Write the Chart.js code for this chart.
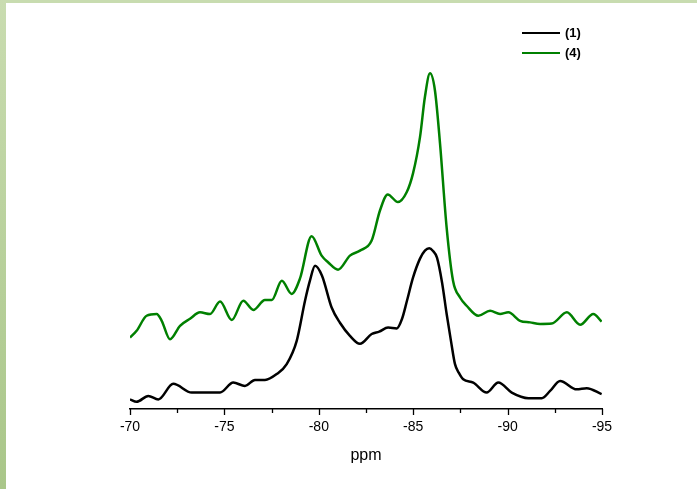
<!DOCTYPE html>
<html>
<head>
<meta charset="utf-8">
<script src="https://cdn.jsdelivr.net/npm/chart.js@4"></script>
<style>
  body { margin: 0; background: #fff; }
  #wrap { position: relative; width: 698px; height: 489px; }
  #chart { position: absolute; left: 0; top: 0; }
  .edge-left { position: absolute; left: 0; top: 0; width: 6px; height: 489px;
    background: linear-gradient(#c9dcb0, #a9c689); }
  .edge-top { position: absolute; left: 0; top: 0; width: 697px; height: 3px; background: #c8dcb0; }
</style>
</head>
<body>
<div id="wrap">
  <canvas id="chart" width="698" height="489"></canvas>
  <div class="edge-top"></div>
  <div class="edge-left"></div>
</div>
<script>
// sample (1) - ppm / intensity (arb. units)
const ppm1 = [-70.00, -70.35, -70.97, -71.50, -72.29, -73.27, -74.77, -75.47, -76.09, -76.62,
  -77.15, -77.77, -78.30, -78.83, -79.27, -79.53, -79.80, -80.17, -80.68, -81.12,
  -81.65, -82.18, -82.80, -83.20, -83.67, -84.13, -84.41, -84.67, -84.99, -85.36, -85.62,
  -85.85, -86.05, -86.26, -86.53, -86.77, -87.00, -87.21, -87.42, -87.65, -88.18,
  -88.89, -89.51, -90.22, -91.10, -91.81, -92.25, -92.78, -93.66, -94.19, -94.98];
const sample1 = [2.4, 1.8, 3.25, 2.4, 6.3, 4.1, 4.1, 6.6, 5.75, 7.25,
  7.25, 8.7, 11.2, 17, 27, 32, 35.75, 33.25, 25.3, 21.5,
  18.25, 16.25, 18.7, 19.3, 20.3, 20.1, 22.5, 27, 32.75, 37.5, 39.5,
  40.1, 39.4, 37.75, 31.5, 23.75, 17, 11.25, 9, 7.4, 6.6,
  4.1, 6.6, 4.1, 2.7, 2.7, 4.5, 7, 4.9, 5.2, 3.7];

// sample (4)
const ppm4 = [-70.00, -70.35, -70.88, -71.41, -71.68, -72.12, -72.65, -73.18, -73.71, -74.24,
  -74.77, -75.39, -76.00, -76.53, -77.15, -77.51, -78.04, -78.56, -79.00, -79.62,
  -80.15, -80.49, -81.02, -81.65, -82.18, -82.80, -83.24, -83.65, -84.19, -84.66,
  -84.99, -85.36, -85.62, -85.89, -86.15, -86.42, -86.77, -87.11, -87.48, -87.83,
  -88.45, -89.07, -89.60, -90.04, -90.66, -91.19, -91.72, -92.34, -93.14, -93.84,
  -94.54, -94.98];
const sample4 = [17.8, 19.5, 23.25, 23.7, 22, 17.4, 20.75, 22.5, 24.1, 23.7,
  26.8, 22.2, 27, 24.7, 27.2, 27.2, 32, 28.7, 32.5, 43.1,
  38.25, 36.6, 34.75, 38.25, 39.5, 42, 49.5, 53.5, 51.6, 54.1,
  58.75, 67.8, 77.8, 83.7, 79.5, 66.25, 45.3, 32, 27.8, 25.75,
  23.25, 24.5, 23.7, 24.1, 22, 21.6, 21.2, 21.3, 24.1, 21,
  23.7, 21.8];

const seriesNames = ['(1)', '(4)'];
const seriesColors = ['#000000', '#008000'];

const toPoints = (xs, ys) => xs.map((x, i) => ({ x: x, y: ys[i] }));

// minor/major tick marks drawn below the axis line
const tickMarks = {
  id: 'tickMarks',
  afterDraw(chart) {
    const scale = chart.scales.x;
    const ctx = chart.ctx;
    const y0 = chart.chartArea.bottom;
    ctx.save();
    ctx.strokeStyle = '#000';
    ctx.lineWidth = 1.3;
    scale.ticks.forEach((t) => {
      const px = Math.round(scale.getPixelForValue(t.value)) + 0.5;
      const len = t.value % 5 === 0 ? 6 : 4;
      ctx.beginPath();
      ctx.moveTo(px, y0);
      ctx.lineTo(px, y0 + len);
      ctx.stroke();
    });
    ctx.restore();
  }
};

// legend in the top right corner
const cornerLegend = {
  id: 'cornerLegend',
  afterDraw(chart) {
    const ctx = chart.ctx;
    const right = chart.chartArea.right;
    ctx.save();
    ctx.font = 'bold 13px "Liberation Sans", Arial, sans-serif';
    ctx.textBaseline = 'middle';
    chart.data.datasets.forEach((ds, i) => {
      const y = 33 + i * 20;
      ctx.strokeStyle = ds.borderColor;
      ctx.lineWidth = 2.2;
      ctx.beginPath();
      ctx.moveTo(right - 80, y);
      ctx.lineTo(right - 42, y);
      ctx.stroke();
      ctx.fillStyle = '#000';
      ctx.fillText(ds.label, right - 37, y);
    });
    ctx.restore();
  }
};

new Chart(document.getElementById('chart'), {
  type: 'line',
  data: {
    datasets: [
      { label: seriesNames[0], data: toPoints(ppm1, sample1), borderColor: seriesColors[0] },
      { label: seriesNames[1], data: toPoints(ppm4, sample4), borderColor: seriesColors[1] }
    ]
  },
  options: {
    responsive: false,
    animation: false,
    layout: { padding: { left: 130, right: 96, top: 8, bottom: 24 } },
    elements: {
      line: { borderWidth: 2.5, cubicInterpolationMode: 'monotone', fill: false },
      point: { radius: 0 }
    },
    plugins: { legend: { display: false }, tooltip: { enabled: false } },
    scales: {
      x: {
        type: 'linear',
        min: -95,
        max: -70,
        reverse: true,
        grid: { display: false, drawTicks: false },
        border: { display: true, color: '#000', width: 1.5 },
        ticks: {
          stepSize: 2.5,
          padding: 10,
          color: '#000',
          autoSkip: false,
          maxRotation: 0,
          font: { family: '"Liberation Sans", Arial, sans-serif', size: 14 },
          callback: (v) => (v % 5 === 0 ? String(v) : '')
        },
        title: {
          display: true,
          text: 'ppm',
          color: '#000',
          padding: { top: 0, bottom: 0 },
          font: { family: '"Liberation Sans", Arial, sans-serif', size: 16 }
        }
      },
      y: { display: false, min: 0, max: 100 }
    }
  },
  plugins: [tickMarks, cornerLegend]
});
</script>
</body>
</html>
